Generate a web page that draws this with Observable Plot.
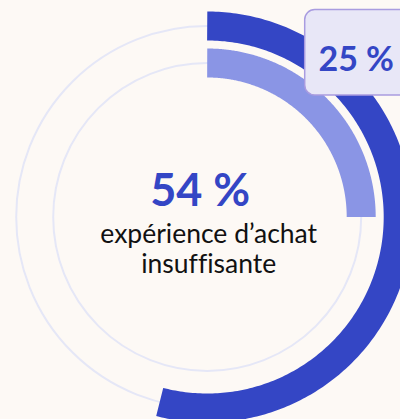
<!DOCTYPE html>
<html>
<head>
<meta charset="utf-8">
<script src="https://cdn.jsdelivr.net/npm/d3@7"></script>
<script src="https://cdn.jsdelivr.net/npm/@observablehq/plot@0.6"></script>
<style>
  html, body { margin: 0; padding: 0; background: #fdf9f5; }
  #chart svg { display: block; }
  #chart svg text { font-variant-ligatures: none; font-feature-settings: "liga" 0, "clig" 0; }
</style>
</head>
<body>
<div id="chart"></div>
<script>
// ---- data ----
const series = ["outer", "inner"];
const values = [54, 25];            // percent
const seriesColors = ["#3446c5", "#8a95e5"];
const centerValue = "54 %";
const centerLines = ["expérience d’achat", "insuffisante"];
const calloutText = "25 %";

// ---- layout (pixel units, centre of rings at 0,0; y grows downward) ----
const W = 400, H = 419;
const cx = 206.7, cy = 216.5;
const radii = [191, 154];            // mid radius of each band
const band = 29;
const trackColor = "#e5e7f7";

// arc geometry derived from each value
function arcPoints(value, r, key) {
  const n = 240, pts = [];
  const end = value / 100 * 2 * Math.PI;
  for (let i = 0; i <= n; i++) {
    const t = end * i / n;
    pts.push({key, x: r * Math.sin(t), y: -r * Math.cos(t)});
  }
  return pts;
}
const arcs = series.flatMap((s, i) => arcPoints(values[i], radii[i], s));

const chart = Plot.plot({
  width: W,
  height: H,
  margin: 0,
  style: {background: "#fdf9f5", fontFamily: "Lato, sans-serif"},
  x: {domain: [-cx, W - cx], range: [0, W], axis: null},
  y: {domain: [-cy, H - cy], range: [0, H], axis: null},
  r: {type: "identity"},
  color: {domain: series, range: seriesColors},
  marks: [
    // tracks
    Plot.dot(radii, {x: 0, y: 0, r: d => d, fill: "none", stroke: trackColor, strokeWidth: 2}),
    // value arcs
    Plot.line(arcs, {x: "x", y: "y", z: "key", stroke: "key", strokeWidth: band, strokeLinecap: "butt", strokeLinejoin: "round"}),
    // callout box
    Plot.rect([calloutText], {x1: 98, x2: 230, y1: -207, y2: -121.5, fill: "#e8e7f7", stroke: "#a99ce0", strokeWidth: 1.5, rx: 10}),
    Plot.text([calloutText], {x: 149, y: -146.5, text: d => d, fontSize: 34, fontWeight: 700, fill: "#3446c5", textAnchor: "middle", lineAnchor: "bottom", fontFamily: "Lato"}),
    // centre texts
    Plot.text([centerValue], {x: -7, y: -11.5, text: d => d, fontSize: 45, fontWeight: 700, fill: "#3446c5", textAnchor: "middle", lineAnchor: "bottom", fontFamily: "Lato"}),
    Plot.text(centerLines, {x: 1.5, y: (d, i) => 25.5 + i * 30, text: d => d, fontSize: 26.5, fill: "#111", textAnchor: "middle", lineAnchor: "bottom", fontFamily: "Lato"})
  ]
});
document.getElementById("chart").appendChild(chart);
</script>
</body>
</html>
